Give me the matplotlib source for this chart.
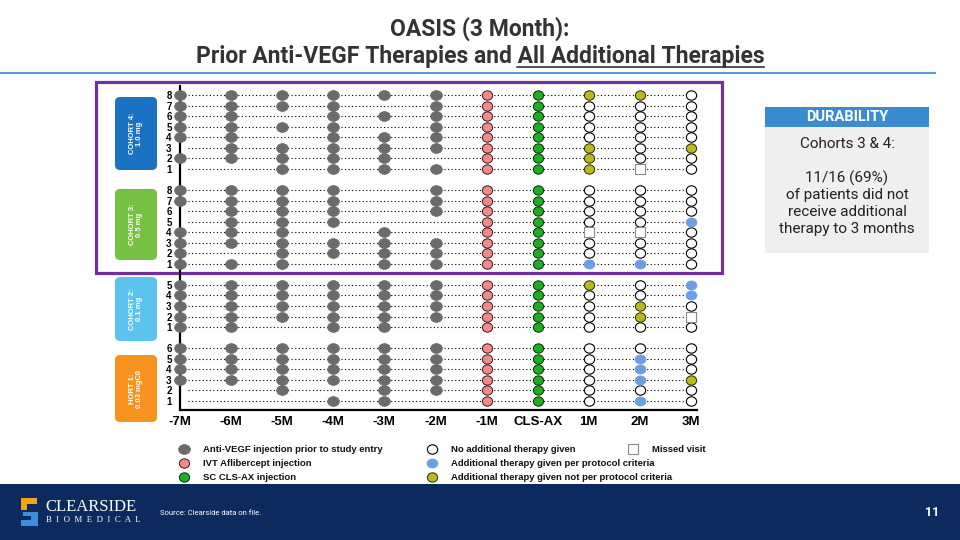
import matplotlib
matplotlib.use("Agg")
import matplotlib.pyplot as plt
from matplotlib.patches import FancyBboxPatch, Rectangle, Polygon
from matplotlib.path import Path
from matplotlib.transforms import Affine2D

# visits along the x axis
visit_labels = ["-7M", "-6M", "-5M", "-4M", "-3M", "-2M", "-1M", "CLS-AX", "1M", "2M", "3M"]
visit_x = [-7, -6, -5, -4, -3, -2, -1, 0, 1, 2, 3]
prior_x = [-7, -6, -5, -4, -3, -2]
follow_x = [1, 2, 3]

# prior anti-VEGF injections (-7M..-2M), rows from top patient down to patient 1
# g = injection, . = none
cohort4_prior = ["gggggg", "gggg.g", "gg.ggg", "gggg.g", "gg.ggg", ".ggggg", "ggggg.", "..gggg"]
cohort3_prior = ["gggg.g", "gggg.g", ".ggg.g", ".ggg..", "ggg.g.", "gggggg", "g.gggg", "ggg.gg"]
cohort2_prior = ["gggggg", "gggggg", "gggggg", "gggggg", "gg.gg."]
cohort1_prior = ["gggggg", "gggggg", "gggggg", "gggggg", "..g.gg", "...gg."]

# follow-up at 1M, 2M, 3M
# o = no additional therapy, b = per protocol, y = not per protocol, s = missed visit
cohort4_follow = ["yyo", "ooo", "ooo", "ooo", "ooo", "yoy", "yoo", "yso"]
cohort3_follow = ["ooo", "ooo", "ooo", "oob", "sso", "ooo", "ooo", "bbo"]
cohort2_follow = ["yob", "oob", "oyo", "oys", "ooo"]
cohort1_follow = ["ooo", "obo", "obo", "oby", "ooo", "obo"]

cohort_names = ["COHORT 4:\n1.0 mg", "COHORT 3:\n0.5 mg", "COHORT 2:\n0.1 mg", "HORT 1:\n0.03 mgC0"]
cohort_colors = ["#1b72c0", "#78c043", "#5cc3ef", "#f7931e"]

legend_labels = ["Anti-VEGF injection prior to study entry", "IVT Aflibercept injection",
                 "SC CLS-AX injection", "No additional therapy given",
                 "Additional therapy given per protocol criteria",
                 "Additional therapy given not per protocol criteria", "Missed visit"]

durability_lines = ["Cohorts 3 & 4:", "11/16 (69%)\nof patients did not\nreceive additional\ntherapy to 3 months"]

ellipse = Path.unit_circle().transformed(Affine2D().scale(1.2, 1.0))
roundish = Path.unit_circle().transformed(Affine2D().scale(1.1, 1.0))

styles = {
    "g": dict(marker=ellipse, s=72, facecolor="#6b6b6b", edgecolor="#6b6b6b", linewidths=0.5),
    "p": dict(marker=roundish, s=55, facecolor="#f08a8c", edgecolor="#3a1a1a", linewidths=0.7),
    "c": dict(marker=roundish, s=55, facecolor="#1fae23", edgecolor="#0a2a0a", linewidths=0.7),
    "o": dict(marker=roundish, s=55, facecolor="white", edgecolor="black", linewidths=0.8),
    "b": dict(marker=ellipse, s=62, facecolor="#6b9fe2", edgecolor="#6b9fe2", linewidths=0.5),
    "y": dict(marker=roundish, s=55, facecolor="#b9b923", edgecolor="#2a2a00", linewidths=0.7),
    "s": dict(marker="s", s=48, facecolor="white", edgecolor="#8a8a8a", linewidths=0.8),
}

fig = plt.figure(figsize=(9.6, 5.4), dpi=100)

# background / decoration axes in pixel coordinates
bg = fig.add_axes([0, 0, 1, 1])
bg.set_xlim(0, 960)
bg.set_ylim(540, 0)
bg.axis("off")

# title
title_fs = 16.5
bg.text(480, 29, "OASIS (3 Month):", ha="center", va="center", fontsize=title_fs,
        fontfamily="Roboto", fontweight="bold", color="#333333")
suffix = "All Additional Therapies"
t2 = bg.text(480, 56, "Prior Anti-VEGF Therapies and " + suffix, ha="center", va="center",
             fontsize=title_fs, fontfamily="Roboto", fontweight="bold", color="#333333")
fig.canvas.draw()
r = fig.canvas.get_renderer()
tmp = bg.text(0, 0, suffix, fontsize=title_fs, fontfamily="Roboto", fontweight="bold")
sw = tmp.get_window_extent(r).width
tmp.remove()
bb = t2.get_window_extent(r)
inv = bg.transData.inverted()
x_end = inv.transform((bb.x1, 0))[0]
x_start = inv.transform((bb.x1 - sw, 0))[0]
bg.plot([x_start, x_end], [67, 67], color="#333333", lw=1.2)
bg.plot([0, 935], [73, 73], color="#5b9bd5", lw=1.5)

# purple highlight around cohorts 3 & 4
bg.add_patch(Rectangle((96, 82), 626, 191, fill=False, edgecolor="#7030a0", lw=2.3, zorder=5))

# cohort boxes
box_spans = [(97, 170), (189, 260), (277, 341), (355, 422)]
for name, col, (y0, y1) in zip(cohort_names, cohort_colors, box_spans):
    bg.add_patch(FancyBboxPatch((115, y0), 42, y1 - y0, boxstyle="round,pad=0,rounding_size=5",
                                facecolor=col, edgecolor="none"))
    bg.text(136, (y0 + y1) / 2, name, rotation=90, ha="center", va="center", fontsize=5.5,
            fontweight="bold", color="white", fontfamily="Liberation Sans", linespacing=1.1)

# durability box
bg.add_patch(Rectangle((765, 127), 164, 126, facecolor="#efefef", edgecolor="none"))
bg.add_patch(Rectangle((765, 107), 164, 20, facecolor="#3a8bcf", edgecolor="none"))
bg.text(847, 117, "DURABILITY", ha="center", va="center", fontsize=10.5, fontweight="bold",
        color="white", fontfamily="Roboto")
bg.text(847, 144, durability_lines[0], ha="center", va="center", fontsize=11,
        fontfamily="Roboto", color="#222222")
bg.text(847, 203, durability_lines[1], ha="center", va="center", fontsize=11,
        fontfamily="Roboto", color="#222222", linespacing=1.25)

# legend
leg_keys = ["g", "p", "c", "o", "b", "y", "s"]
leg_pos = [(184, 449), (184, 463), (184, 477), (432, 449), (432, 463), (432, 477), (633, 449)]
for key, label, (lx, ly) in zip(leg_keys, legend_labels, leg_pos):
    st = dict(styles[key])
    bg.scatter([lx], [ly], zorder=6, **st)
    bg.text(lx + 19, ly, label, ha="left", va="center", fontsize=6.8, fontweight="bold",
            fontfamily="Liberation Sans", color="#111111")

# footer
bg.add_patch(Rectangle((0, 484), 960, 56, facecolor="#0c2a5e", edgecolor="none"))
bg.add_patch(Polygon([(21, 498), (37, 498), (37, 504), (27, 504), (27, 510), (21, 510)],
                     facecolor="#f5a21b", edgecolor="none"))
bg.add_patch(Polygon([(23, 512), (38, 512), (38, 526), (21, 526), (21, 520), (31, 520), (31, 516), (23, 516)],
                     facecolor="#3c8fd8", edgecolor="none"))
bg.text(45, 507, "CLEARSIDE", ha="left", va="center", fontsize=12, color="white",
        fontfamily="Liberation Serif")
bg.text(46, 520, "B  I  O  M  E  D  I  C  A  L", ha="left", va="center", fontsize=6.3, color="white",
        fontfamily="Liberation Serif")
bg.text(160, 513, "Source: Clearside data on file.", ha="left", va="center", fontsize=5.5,
        color="white", fontfamily="Roboto")
bg.text(932, 513, "11", ha="center", va="center", fontsize=9, fontweight="bold",
        color="white", fontfamily="Roboto")

# chart axes: x from -7 (px 180) at 51.1 px per month, rows 10.55 px apart
ax = fig.add_axes([180 / 960, (540 - 410) / 540, 517 / 960, (410 - 86) / 540])
ax.patch.set_alpha(0)
ax.set_xlim(-7, -7 + 517 / 51.1)
ax.set_ylim(-(410 - 401) / 10.55, 29 + (95 - 86) / 10.55)
for sp in ["top", "right"]:
    ax.spines[sp].set_visible(False)
ax.spines["left"].set_linewidth(1.6)
ax.spines["bottom"].set_linewidth(1.6)

cohorts = [(cohort4_prior, cohort4_follow, 22), (cohort3_prior, cohort3_follow, 13),
           (cohort2_prior, cohort2_follow, 7), (cohort1_prior, cohort1_follow, 0)]

ytick_pos, ytick_lab = [], []
pts = {k: ([], []) for k in styles}
for prior, follow, base in cohorts:
    n = len(prior)
    for i, (pr, fo) in enumerate(zip(prior, follow)):
        patient = n - i
        y = base + patient - 1
        ytick_pos.append(y)
        ytick_lab.append(str(patient))
        ax.hlines(y, -6.85, 3, colors="black", linestyles=(0, (1, 2.2)), lw=0.8, zorder=1)
        for xv, ch in zip(prior_x, pr):
            if ch == "g":
                pts["g"][0].append(xv)
                pts["g"][1].append(y)
        pts["p"][0].append(-1)
        pts["p"][1].append(y)
        pts["c"][0].append(0)
        pts["c"][1].append(y)
        for xv, ch in zip(follow_x, fo):
            pts[ch][0].append(xv)
            pts[ch][1].append(y)

for key, (xs, ys) in pts.items():
    ax.scatter(xs, ys, zorder=3, clip_on=False, **styles[key])

ax.set_xticks(visit_x)
ax.set_xticklabels(visit_labels, fontsize=9.5, fontweight="bold", fontfamily="Liberation Sans")
ax.set_yticks(ytick_pos)
ax.set_yticklabels(ytick_lab, fontsize=7, fontweight="bold", fontfamily="Liberation Sans")
ax.tick_params(axis="both", length=0)
ax.tick_params(axis="x", pad=4)
ax.tick_params(axis="y", pad=6)

fig.savefig("out.png", dpi=100)
